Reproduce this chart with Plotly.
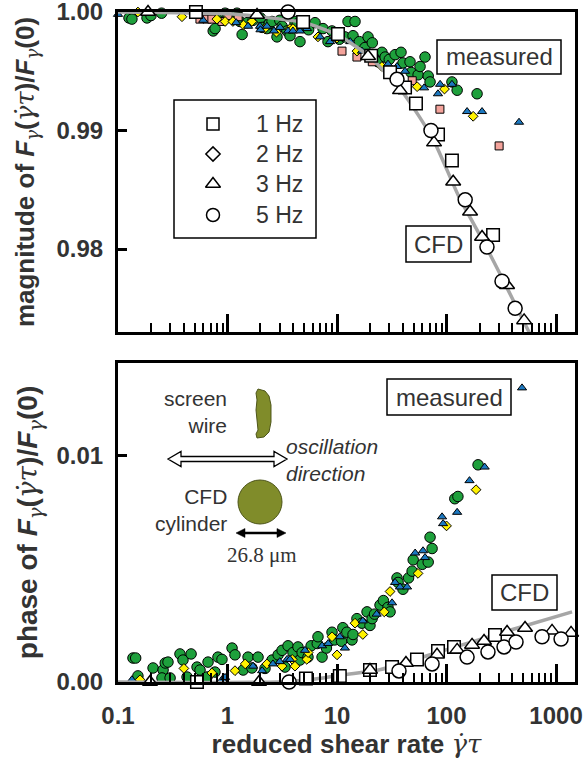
import plotly.graph_objects as go

# ---------------- data ----------------
# top panel: magnitude
cfd_line_top_x = [0.1, 1, 2, 5, 10, 20, 40, 75, 130, 215, 320, 420, 566, 620]
cfd_line_top_y = [1.0, 0.99985, 0.9996, 0.9991, 0.9981, 0.9962, 0.9932, 0.9893, 0.9844, 0.9807, 0.9776, 0.9754, 0.9730, 0.9722]

cfd_sq_top_x = [0.515, 4.9, 10.2, 20.5, 30.5, 41.8, 52.6, 83.6, 112, 266]
cfd_sq_top_y = [1.0, 0.99915, 0.99814, 0.9963, 0.99492, 0.99364, 0.99229, 0.98966, 0.98746, 0.98119]
cfd_tri_top_x = [0.188, 1.86, 19.2, 37.6, 76.9, 115, 164, 211, 357, 511]
cfd_tri_top_y = [1.0, 0.99975, 0.99627, 0.99339, 0.98898, 0.98568, 0.98314, 0.98102, 0.97695, 0.97398]
cfd_circ_top_x = [3.57, 35.3, 72.1, 148, 234, 321, 423]
cfd_circ_top_y = [1.0, 0.99432, 0.99, 0.98415, 0.98017, 0.97729, 0.975]

meas5_top_x = [0.126, 0.134, 0.184, 0.25, 0.2, 0.6, 0.74, 0.77, 0.85, 0.95,
               1.0, 1.06, 1.22, 1.30, 1.36, 1.51, 1.71, 2.0, 2.07, 2.29,
               2.4, 2.55, 2.83, 3.0, 3.15, 3.49, 3.72, 4.13, 4.33, 4.59,
               4.81, 5.5, 6.3, 7.45, 8.27, 9.0, 10.5, 11.8, 12.6, 14.0,
               14.6, 16, 18.0, 19.2, 21, 23.7, 25.7, 27.5, 30, 33.9,
               38.4, 40, 46.4, 47.5, 55, 57.3, 63.6, 68.0, 70.7, 112,
               125, 190]
meas5_top_y = [0.9995, 0.9994, 0.9995, 0.9999, 0.9997, 0.9996, 0.9984, 0.9986, 0.9997, 0.9999,
               0.9998, 0.9996, 0.9999, 0.9992, 0.9981, 0.9991, 0.9993, 0.9995, 0.9987, 0.9986,
               0.9990, 0.9992, 0.9979, 0.9993, 0.9988, 0.9984, 0.9980, 0.9992, 0.9990, 0.9975,
               0.9987, 0.9985, 0.9991, 0.9986, 0.9975, 0.9984, 0.9977, 0.9979, 0.9992, 0.9980,
               0.9992, 0.9975, 0.9970, 0.9979, 0.9974, 0.9958, 0.9966, 0.9962, 0.9960, 0.9964,
               0.9966, 0.9957, 0.9958, 0.9949, 0.9947, 0.9954, 0.9962, 0.9946, 0.9941, 0.9941,
               0.9934, 0.9931]
meas1_top_x = [0.56, 0.65, 0.72, 0.89, 1.01, 1.25, 11.1, 15.2, 21, 48.6, 87, 302]
meas1_top_y = [0.9994, 0.9994, 0.9994, 0.9992, 0.9997, 0.9996, 0.9967, 0.9962, 0.9958, 0.9942, 0.9918, 0.9887]
meas2_top_x = [0.152, 0.384, 0.80, 0.95, 1.12, 1.4, 1.67, 2.19, 2.8, 3.72, 3.96, 6.7, 10, 15.2, 25.7, 53.9, 95.8, 175]
meas2_top_y = [1.0, 0.9996, 0.9994, 0.9992, 0.9992, 0.9989, 0.9992, 0.9986, 0.9983, 0.9986, 0.9986, 0.9979, 0.9978, 0.9967, 0.9954, 0.9937, 0.9935, 0.9912]
meas3_top_x = [0.1, 0.6, 1.2, 1.54, 1.98, 2.0, 2.29, 2.66, 3.02, 3.57, 3.96, 4.59, 5.32, 7.0,
               8.63, 13.2, 16.9, 22.2, 29.2, 35.3, 41.8, 62.4, 83.5, 87.3, 112, 154, 211, 459]
meas3_top_y = [0.9998, 0.9993, 0.9991, 0.9988, 0.9988, 0.9985, 0.9988, 0.9984, 0.9987, 0.9984, 0.9984, 0.9984, 0.9986, 0.9979,
               0.9975, 0.9975, 0.9967, 0.9964, 0.9956, 0.9954, 0.9950, 0.9936, 0.9931, 0.9939, 0.9939, 0.9916, 0.9916, 0.9907]

# bottom panel: phase
cfd_line_bot_x = [0.1, 3, 6, 10, 25, 100, 400, 1400]
cfd_line_bot_y = [0.0, 0.0, 0.00012, 0.00028, 0.00055, 0.00143, 0.00232, 0.0031]

cfd_sq_bot_x = [0.526, 5.2, 10.6, 20, 31.8, 53.7, 83.6, 117, 277]
cfd_sq_bot_y = [0.0, 0.00015, 0.00027, 0.00053, 0.00066, 0.001, 0.00137, 0.00155, 0.00208]
cfd_tri_bot_x = [0.196, 1.94, 20, 42.6, 81.9, 125, 171, 220, 357, 521, 919, 1371]
cfd_tri_bot_y = [0.0, 0.0, 0.00053, 0.00084, 0.0012, 0.00142, 0.00164, 0.00181, 0.00221, 0.00239, 0.00226, 0.00217]
cfd_circ_bot_x = [3.65, 36.8, 73.8, 154, 239, 335, 431, 745, 1111]
cfd_circ_bot_y = [0.0, 0.00049, 0.0008, 0.0011, 0.00133, 0.00155, 0.00177, 0.002, 0.0019]

meas5_bot_x = [0.137, 0.145, 0.152, 0.209, 0.258, 0.27, 0.286, 0.252, 0.299, 0.368,
               0.392, 0.465, 0.427, 0.527, 0.561, 0.664, 0.65, 0.768, 0.818, 0.89,
               1.1, 1.17, 1.39, 1.54, 1.67, 1.9, 2.2, 2.55, 2.9, 3.15,
               3.35, 3.57, 3.96, 4.4, 4.59, 4.8, 5.43, 5.8, 6.6, 6.7,
               7.3, 8.0, 9.0, 9.5, 11, 11.3, 12.3, 13.7, 14, 15.2,
               16.9, 18.8, 20, 20.9, 22, 24.7, 26.5, 29.2, 30.5, 35.3,
               36.1, 40, 45, 48.5, 49.6, 60, 68, 70.7, 73.8, 119,
               127, 194]
meas5_bot_y = [0.00106, 0.00106, 0.00027, 0.00062, 0.00053, 0.00084, 0.00088, 0.00018, 0.00018, 0.00124,
               0.00097, 0.00124, 0.00022, 0.00066, 0.00053, 0.00088, 0.00022, 0.00044, 0.0011, 0.001,
               0.0015, 0.0012, 0.00053, 0.0011, 0.00062, 0.0011, 0.0006, 0.00097, 0.0012, 0.0014,
               0.00066, 0.0016, 0.0013, 0.00155, 0.00097, 0.0013, 0.0011, 0.0016, 0.0017, 0.002,
               0.0011, 0.0015, 0.0022, 0.00186, 0.0018, 0.0024, 0.0022, 0.00186, 0.0021, 0.0028,
               0.0026, 0.0031, 0.0025, 0.0028, 0.003, 0.0034, 0.0036, 0.0033, 0.0031, 0.0046,
               0.0044, 0.0041, 0.0046, 0.0049, 0.0054, 0.0052, 0.0053, 0.0064, 0.0059, 0.0081,
               0.0082, 0.0096]
meas2_bot_x = [0.159, 0.4, 0.72, 1.17, 1.45, 2.29, 3.15, 3.9, 4.13, 5.3,
               5.45, 9.0, 10, 14.6, 17.2, 27, 30.5, 54.9, 100, 186]
meas2_bot_y = [0.0001, 0.0006, 0.0004, 0.0005, 0.0008, 0.0008, 0.0007, 0.001, 0.0007, 0.001,
               0.0013, 0.002, 0.0012, 0.0026, 0.0021, 0.0031, 0.004, 0.0048, 0.0069, 0.0085]
meas3_bot_x = [0.134, 0.89, 0.95, 1.71, 2.07, 2.6, 3.0, 3.5, 3.72, 5.1,
               7.3, 8.3, 10.6, 11.8, 17.2, 23, 31.8, 33.9, 37.6, 43.6,
               51.7, 61, 63.6, 91, 93, 125, 162, 223, 489]
meas3_bot_y = [0.0001, 0.0001, 0.0002, 0.0007, 0.0005, 0.0008, 0.0009, 0.001, 0.001, 0.0014,
               0.0016, 0.0017, 0.002, 0.0015, 0.0027, 0.003, 0.0035, 0.0044, 0.0042, 0.0042,
               0.0057, 0.0058, 0.0055, 0.0073, 0.007, 0.0075, 0.0089, 0.0095, 0.0130]

x_tickvals = [0.1, 1, 10, 100, 1000]
x_ticktext = ["0.1", "1", "10", "100", "1000"]
x_minor = [m * d for d in (0.1, 1, 10, 100) for m in range(2, 10)]
top_tickvals = [0.98, 0.99, 1.00]
top_ticktext = ["0.98", "0.99", "1.00"]
bot_tickvals = [0.0, 0.01]
bot_ticktext = ["0.00", "0.01"]
legend_labels = ["1 Hz", "2 Hz", "3 Hz", "5 Hz"]
legend_symbols = ["square-open", "diamond-open", "triangle-up-open", "circle-open"]

# ---------------- layout helpers ----------------
W, H = 586, 774
L, R, T, B = 118, 11, 12, 92
PW, PH = W - L - R, H - T - B


def px(x):
    return (x - L) / PW


def py(y):
    return (H - B - y) / PH


GREEN, BLUE, YELLOW, PINK = "#1ea03c", "#1c78c0", "#fff200", "#f4a39b"
GRAY = "#a6a6a6"
OLIVE = "#808c2a"
SANS = "Liberation Sans, Arial, sans-serif"
SERIF = "Liberation Serif, Times New Roman, serif"
TXT = "#333333"

fig = go.Figure()


def meas(x, y, sym, color, size, xa, ya):
    fig.add_trace(go.Scatter(x=x, y=y, mode="markers", xaxis=xa, yaxis=ya, cliponaxis=False,
                             marker=dict(symbol=sym, color=color, size=size,
                                         line=dict(color="black", width=1)),
                             showlegend=False, hoverinfo="skip"))


def cfd(x, y, sym, size, xa, ya):
    fig.add_trace(go.Scatter(x=x, y=y, mode="markers", xaxis=xa, yaxis=ya, cliponaxis=False,
                             marker=dict(symbol=sym, color="white", size=size,
                                         line=dict(color="black", width=1.5)),
                             showlegend=False, hoverinfo="skip"))


def line(x, y, xa, ya):
    fig.add_trace(go.Scatter(x=x, y=y, mode="lines", xaxis=xa, yaxis=ya,
                             line=dict(color=GRAY, width=3.5, shape="spline", smoothing=0.6),
                             showlegend=False, hoverinfo="skip"))


# top panel
meas(meas5_top_x, meas5_top_y, "circle", GREEN, 10.5, "x", "y")
meas(meas1_top_x, meas1_top_y, "square", PINK, 8, "x", "y")
meas(meas2_top_x, meas2_top_y, "diamond", YELLOW, 7.5, "x", "y")
meas(meas3_top_x, meas3_top_y, "triangle-up", BLUE, 8, "x", "y")
line(cfd_line_top_x, cfd_line_top_y, "x", "y")
cfd(cfd_sq_top_x, cfd_sq_top_y, "square", 12.5, "x", "y")
cfd(cfd_tri_top_x, cfd_tri_top_y, "triangle-up", 13, "x", "y")
cfd(cfd_circ_top_x, cfd_circ_top_y, "circle", 14, "x", "y")

# bottom panel
meas(meas5_bot_x, meas5_bot_y, "circle", GREEN, 10.5, "x2", "y2")
meas(meas2_bot_x, meas2_bot_y, "diamond", YELLOW, 7.5, "x2", "y2")
meas(meas3_bot_x, meas3_bot_y, "triangle-up", BLUE, 8, "x2", "y2")
line(cfd_line_bot_x, cfd_line_bot_y, "x2", "y2")
cfd(cfd_sq_bot_x, cfd_sq_bot_y, "square", 12.5, "x2", "y2")
cfd(cfd_tri_bot_x, cfd_tri_bot_y, "triangle-up", 13, "x2", "y2")
cfd(cfd_circ_bot_x, cfd_circ_bot_y, "circle", 14, "x2", "y2")

# legend markers on an invisible overlay axis
leg_rows = [124, 154, 184, 215]
leg_sizes = [12, 11, 13, 13]
for lab, sym, yy, s in zip(legend_labels, legend_symbols, leg_rows, leg_sizes):
    fig.add_trace(go.Scatter(x=[px(213)], y=[py(yy)], mode="markers", xaxis="x3", yaxis="y3",
                             marker=dict(symbol=sym, size=s, color="black", line=dict(width=1.5)),
                             showlegend=False, hoverinfo="skip"))

sg = "font-family:DejaVu Serif;font-weight:normal"
gam = f"<span style='{sg}'><i>γ</i></span>"
gdt = f"<span style='{sg}'><i>γ\u0307τ</i></span>"
ytitle_top = f"magnitude of <i>F</i><sub>{gam}</sub>({gdt})/<i>F</i><sub>{gam}</sub>(0)"
ytitle_bot = f"phase of <i>F</i><sub>{gam}</sub>({gdt})/<i>F</i><sub>{gam}</sub>(0)"
xtitle = f"reduced shear rate {gdt}"

tickfont = dict(family=SANS, size=24, color=TXT, weight="bold")
titlefont = dict(family=SANS, size=26, color=TXT, weight="bold")
titlefont_bot = dict(family=SANS, size=28, color=TXT, weight="bold")

common_x = dict(type="log", range=[-1, 3.173], tickmode="array", tickvals=x_tickvals, ticktext=x_ticktext,
                ticks="inside", ticklen=18, tickwidth=3, tickcolor="black",
                minor=dict(tickmode="array", tickvals=x_minor, ticks="inside", ticklen=9, tickwidth=2,
                           tickcolor="black", showgrid=False),
                showline=True, linewidth=3, linecolor="black", mirror=True, automargin=False,
                ticklabeloverflow="allow",
                showgrid=False, zeroline=False, tickfont=tickfont)
common_y = dict(ticks="inside", ticklen=9, tickwidth=3, tickcolor="black", tickmode="array",
                showline=True, linewidth=3, linecolor="black", mirror=True, automargin=False,
                ticklabeloverflow="allow",
                showgrid=False, zeroline=False, tickfont=tickfont, ticklabelstandoff=7)

fig.update_layout(
    width=W, height=H,
    margin=dict(l=L, r=R, t=T, b=B, autoexpand=False),
    paper_bgcolor="white", plot_bgcolor="rgba(0,0,0,0)",
    showlegend=False,
    xaxis=dict(common_x, domain=[0, 1], anchor="y", showticklabels=False),
    yaxis=dict(common_y, domain=[py(332), 1], anchor="x", range=[0.9730, 1.0],
               tickvals=top_tickvals, ticktext=top_ticktext,
               title=dict(text=ytitle_top, font=titlefont, standoff=15)),
    xaxis2=dict(common_x, domain=[0, 1], anchor="y2", ticklabelstandoff=10,
                title=dict(text=xtitle, font=titlefont, standoff=6)),
    yaxis2=dict(common_y, domain=[0, py(363)], anchor="x2", range=[0, 0.0141],
                tickvals=bot_tickvals, ticktext=bot_ticktext,
                title=dict(text=ytitle_bot, font=titlefont_bot, standoff=11)),
    xaxis3=dict(domain=[0, 1], anchor="y3", range=[0, 1], visible=False, fixedrange=True),
    yaxis3=dict(domain=[0, 1], anchor="x3", range=[0, 1], visible=False, fixedrange=True),
)

shapes = []
annots = []


def box(x0, y0, x1, y1, w=1.5):
    shapes.append(dict(type="rect", xref="paper", yref="paper", x0=px(x0), x1=px(x1), y0=py(y1), y1=py(y0),
                       line=dict(color="black", width=w), fillcolor="rgba(0,0,0,0)", layer="above"))


def text(t, x, y, size=21, xanchor="center", family=SANS, italic=False, align="center"):
    if italic:
        t = f"<i>{t}</i>"
    annots.append(dict(text=t, x=px(x), y=py(y), xref="paper", yref="paper", showarrow=False,
                       xanchor=xanchor, yanchor="middle", align=align,
                       font=dict(family=family, size=size, color=TXT)))


def path(points, fill, lw=1.2, lc="black"):
    d = "M " + " L ".join(f"{px(a):.5f},{py(b):.5f}" for a, b in points) + " Z"
    shapes.append(dict(type="path", xref="paper", yref="paper", path=d, fillcolor=fill,
                       line=dict(color=lc, width=lw), layer="above"))


# legend box
box(174, 100, 316, 238)
for lab, yy in zip(legend_labels, leg_rows):
    text(lab, 254, yy, size=23, xanchor="left")

# measured / CFD labels
box(437, 40, 561, 74)
text("measured", 499, 57, size=24)
box(406, 226, 471, 262)
text("CFD", 438.5, 244, size=24)
box(387, 379, 511, 415)
text("measured", 449, 397, size=24)
box(492, 575, 557, 610)
text("CFD", 524.5, 592.5, size=24)

# inset drawing
text("screen<br>wire", 229, 412, xanchor="right", align="right")
text("CFD<br>cylinder", 229, 510, xanchor="right", align="right")
text("oscillation<br>direction", 284, 460, xanchor="left", italic=True, align="left")
text("26.8 \u03bcm", 262, 555, family=SERIF, size=21)

# screen wire cross-section
path([(258, 389), (265, 391), (269, 396), (271, 405), (271, 422), (269, 432), (264, 437), (257, 438),
      (256, 434), (258, 430), (257, 420), (256, 410), (257, 400), (256, 393)], OLIVE, lw=1, lc="#4d5519")
# hollow double arrow
path([(168, 459), (181, 451.5), (181, 456.5), (274, 456.5), (274, 451.5), (287, 459),
      (274, 466.5), (274, 461.5), (181, 461.5), (181, 466.5)], "white", lw=1.3)
# cylinder
shapes.append(dict(type="circle", xref="paper", yref="paper", x0=px(238), x1=px(282), y0=py(524), y1=py(480),
                   fillcolor=OLIVE, line=dict(color="#4d5519", width=1), layer="above"))
# black dimension arrow
shapes.append(dict(type="line", xref="paper", yref="paper", x0=px(242), x1=px(280), y0=py(533), y1=py(533),
                   line=dict(color="black", width=2.5), layer="above"))
path([(236, 533), (245, 528.5), (245, 537.5)], "black", lw=0.5)
path([(286, 533), (277, 528.5), (277, 537.5)], "black", lw=0.5)

fig.update_layout(shapes=shapes, annotations=annots)
# remove the default 8px page margin so the figure sits at the window's top-left corner
fig.write_html("out.html", config={"displayModeBar": False},
               post_script="document.body.style.margin='0px';")
